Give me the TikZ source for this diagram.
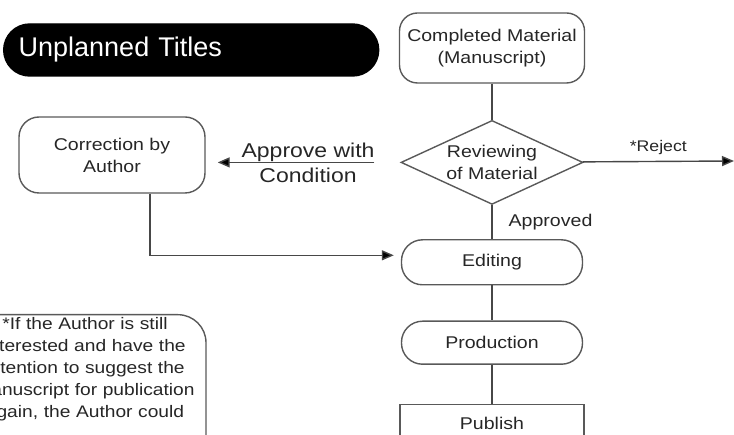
\documentclass[tikz,border=0pt]{standalone}
\usepackage{fontspec}
\setmainfont{Liberation Sans}[FakeStretch=1.15]
\newfontfamily\titlefont{Liberation Sans}
\usetikzlibrary{positioning}
\usetikzlibrary{arrows.meta}
\usetikzlibrary{shapes.geometric}

\begin{document}
\begin{tikzpicture}[x=1pt,y=-1pt,-,
                line width=1.4pt,color=black!72,text=black!85,node distance=35pt,
                font=\fontsize{17}{22}\selectfont,
                box node/.style={rectangle,draw=black!65,rounded corners=18pt,align=center,
                  minimum width=185pt,inner sep=0pt},
                pill node/.style={box node,minimum width=181pt,rounded corners=21pt},
                check node/.style={diamond,draw=black!65,shape aspect=2,inner sep=0pt,
                  minimum width=182pt,minimum height=84pt,align=center},
                label node/.style={inner sep=1pt},
                arrow line/.style={-{Triangle[length=12pt,width=10pt,fill=black]}}]

  \useasboundingbox (0,0) rectangle (734,435);
  \clip (0,0) rectangle (734,435);

  \node[fill=black,draw=black,rounded corners=26pt,minimum height=52pt,anchor=west,
        text width=345pt,inner xsep=15pt,align=left,text=white,
        font=\titlefont\fontsize{27}{30}\selectfont] (title) at (3,50) {Unplanned Titles};

  \node[box node,minimum height=70pt] (completed) at (492,48) {Completed Material\\(Manuscript)};
  \node[check node] (review) [below=36pt of completed] {Reviewing\\of Material};
  \node[pill node,minimum height=45pt] (editing) [below=34pt of review] {Editing};
  \node[pill node,minimum height=43pt] (production) [below=35pt of editing] {Production};
  \node[box node,rounded corners=0pt,minimum width=184pt,minimum height=38pt] (publish)
        [below=39pt of production] {Publish};

  \node[box node,minimum width=186pt,minimum height=76pt,rounded corners=20pt] (correction)
        at (112,155) {Correction by\\Author};

  \node[box node,rounded corners=28pt,text width=238pt,inner xsep=2pt,inner ysep=3pt,
        anchor=north,text depth=130pt,font=\fontsize{16.7}{22}\selectfont] (note) at (85,314)
        {*If the Author is still\\interested and have the\\intention to suggest the\\
         manuscript for publication\\again, the Author could};

  \coordinate (rejectend) at (734,161);

  \path
    (completed) edge (review)
    (review) edge node[label node,right=15pt] {Approved} (editing)
    (editing) edge (production)
    (production) edge (publish);

  \draw[arrow line] (review) -- node[label node,above=5pt,font=\fontsize{15.4}{18}\selectfont] {*Reject} (rejectend);
  \draw[arrow line,shorten <=26pt,shorten >=12pt] (review.west) --
        node[label node,pos=0.474,align=center,font=\fontsize{20}{25}\selectfont] {Approve with\\Condition}
        (review.west -| correction.east);
  \draw[arrow line,shorten >=7pt] ([xshift=38pt]correction.south) |- ([yshift=7pt]editing.west);

\end{tikzpicture}
\end{document}
